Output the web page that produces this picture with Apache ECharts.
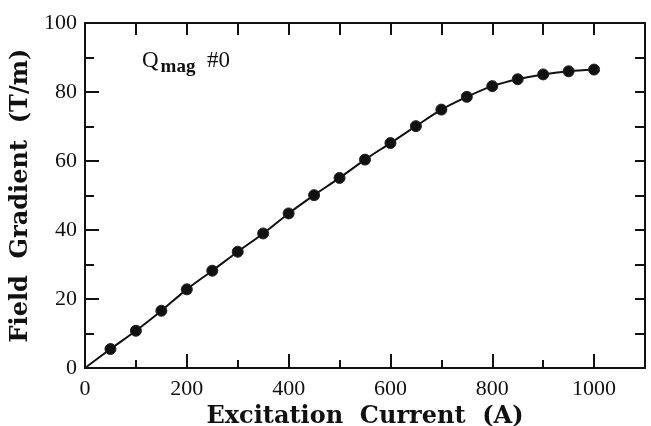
<!DOCTYPE html>
<html>
<head>
<meta charset="utf-8">
<script src="https://cdn.jsdelivr.net/npm/echarts@6/dist/echarts.min.js"></script>
<style>html,body{margin:0;padding:0;background:#fff}#c{width:651px;height:426px}</style>
</head>
<body>
<div id="c"></div>
<script>
var currents = [50,100,150,200,250,300,350,400,450,500,550,600,650,700,750,800,850,900,950,1000];
var gradients = [5.5,10.8,16.6,22.8,28.2,33.7,39.0,44.8,50.1,55.1,60.4,65.2,70.1,74.9,78.6,81.7,83.7,85.1,86.0,86.5];
var xTickLabels = ['0','200','400','600','800','1000'];
var yTickLabels = ['0','20','40','60','80','100'];
var xTitle = 'Excitation  Current  (A)';
var yTitle = 'Field  Gradient  (T/m)';

var pts = currents.map(function(c,i){return [c, gradients[i]];});
var linePts = [[0,0]].concat(pts);
var font = 'Liberation Serif';
var titleFont = 'DejaVu Serif';
var ink = '#111';

var chart = echarts.init(document.getElementById('c'), null, {renderer:'canvas'});
function baseAxis(extra){
  return Object.assign({
    axisLine:{show:true,onZero:false,lineStyle:{color:ink,width:2}},
    splitLine:{show:false},
  }, extra);
}
chart.setOption({
  animation:false,
  backgroundColor:'#fff',
  grid:{left:85,right:6,top:23,bottom:58,containLabel:false,outerBoundsMode:'none'},
  xAxis:[
    baseAxis({type:'value',min:0,max:1100,interval:200,position:'bottom',
      axisTick:{show:true,inside:true,length:14,lineStyle:{color:ink,width:2}},
      minorTick:{show:true,splitNumber:2,length:8,lineStyle:{color:ink,width:2}},
      axisLabel:{show:true,margin:10,fontFamily:font,fontSize:22,color:ink,
        formatter:function(v){var s=String(v);return xTickLabels.indexOf(s)>=0?s:'';}},
      name:xTitle,nameLocation:'middle',nameGap:26,
      nameTextStyle:{fontFamily:titleFont,fontWeight:'bold',fontSize:24,color:ink,verticalAlign:'top'}}),
    baseAxis({type:'value',min:0,max:1100,interval:200,position:'top',
      axisTick:{show:true,inside:true,length:12,lineStyle:{color:ink,width:2}},
      minorTick:{show:true,splitNumber:2,length:12,lineStyle:{color:ink,width:2}},
      axisLabel:{show:false}})
  ],
  yAxis:[
    baseAxis({type:'value',min:0,max:100,interval:20,position:'left',
      axisTick:{show:true,inside:true,length:14,lineStyle:{color:ink,width:2}},
      minorTick:{show:true,splitNumber:2,length:9,lineStyle:{color:ink,width:2}},
      axisLabel:{show:true,margin:8,fontFamily:font,fontSize:22,color:ink,
        formatter:function(v){var s=String(v);return yTickLabels.indexOf(s)>=0?s:'';}},
      name:yTitle,nameLocation:'middle',nameGap:52,nameRotate:90,
      nameTextStyle:{fontFamily:titleFont,fontWeight:'bold',fontSize:24,color:ink}}),
    baseAxis({type:'value',min:0,max:100,interval:20,position:'right',
      axisTick:{show:true,inside:true,length:10,lineStyle:{color:ink,width:2}},
      minorTick:{show:true,splitNumber:2,length:10,lineStyle:{color:ink,width:2}},
      axisLabel:{show:false}})
  ],
  graphic:[{
    type:'text',left:142,top:49,
    style:{
      text:'{q|Q}{s|mag}{h|  #0}',
      rich:{
        q:{fontFamily:font,fontSize:23,fill:ink},
        s:{fontFamily:font,fontSize:19,fontWeight:'bold',fill:ink,padding:[14,0,0,2]},
        h:{fontFamily:font,fontSize:23,fill:ink}
      }
    }
  }],
  series:[
    {type:'line',data:linePts,xAxisIndex:0,yAxisIndex:0,smooth:0.3,showSymbol:false,
      lineStyle:{color:ink,width:2},z:2},
    {type:'scatter',data:pts,xAxisIndex:0,yAxisIndex:0,symbol:'circle',symbolSize:11,
      itemStyle:{color:'#111',borderColor:'#222',borderWidth:1,opacity:1},z:3}
  ]
});
</script>
</body>
</html>
